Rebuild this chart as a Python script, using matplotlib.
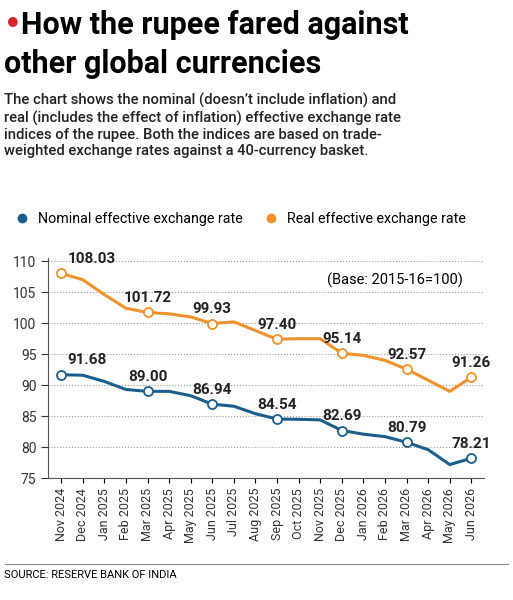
import matplotlib
matplotlib.use("Agg")
import matplotlib.pyplot as plt
from matplotlib.lines import Line2D

months = ["Nov 2024","Dec 2024","Jan 2025","Feb 2025","Mar 2025","Apr 2025","May 2025","Jun 2025",
          "Jul 2025","Aug 2025","Sep 2025","Oct 2025","Nov 2025","Dec 2025","Jan 2026","Feb 2026",
          "Mar 2026","Apr 2026","May 2026","Jun 2026"]
real = [108.03,107.0,104.6,102.4,101.72,101.5,101.0,99.93,100.2,98.8,97.40,97.5,97.5,95.14,94.8,94.0,92.57,90.8,89.0,91.26]
nominal = [91.68,91.6,90.6,89.3,89.00,89.0,88.3,86.94,86.6,85.4,84.54,84.5,84.4,82.69,82.1,81.7,80.79,79.6,77.2,78.21]
marked = [0,4,7,10,13,16,19]

BLUE = "#1b5e8c"; ORANGE = "#f0922b"
fig = plt.figure(figsize=(5.13,6.0), dpi=100)
cond = ["Liberation Sans Narrow","Roboto","DejaVu Sans"]
rob = ["Roboto","DejaVu Sans"]
fig.text(0.008,0.958,"•",color="#d7262e",fontsize=20,va="center",ha="left",fontweight="bold")
fig.text(0.04,0.958,"How the rupee fared against",fontsize=22,fontweight="bold",family=cond,va="center")
fig.text(0.008,0.893,"other global currencies",fontsize=22,fontweight="bold",family=cond,va="center")
fig.text(0.008,0.845,"The chart shows the nominal (doesn’t include inflation) and\nreal (includes the effect of inflation) effective exchange rate\nindices of the rupee. Both the indices are based on trade-\nweighted exchange rates against a 40-currency basket.",
         fontsize=10.6,family=rob,fontweight="medium",va="top",linespacing=1.2,color="#222222")

ax = fig.add_axes([0.094,0.203,0.85,0.367])
x = list(range(len(months)))
for vals,c in ((real,ORANGE),(nominal,BLUE)):
    ax.plot(x,vals,color=c,lw=2.2,zorder=3)
    ax.plot([x[i] for i in marked],[vals[i] for i in marked],'o',ms=6.5,mfc="white",mec=c,mew=1.3,zorder=4)
    for i in marked:
        ax.text(x[i]+(0.3 if i==0 else 0),vals[i]+1.2,f"{vals[i]:.2f}",ha="center" if i else "left",va="bottom",
                fontsize=11,fontweight="bold",family=rob,color="#222222")
ax.set_ylim(75,110.5)
ax.set_xlim(-0.6,19.6)
ax.set_yticks(range(75,111,5))
ax.set_xticks(x)
ax.set_xticklabels(months,rotation=90,fontsize=9,family=rob,color="#333333")
ax.tick_params(axis='y',labelsize=10,colors="#333333",length=5)
for lab in ax.get_yticklabels(): lab.set_family(rob)
ax.grid(axis='y',ls=':',color="#999999",lw=0.8)
for s in ("top","right"): ax.spines[s].set_visible(False)
ax.spines["left"].set_color("#555555"); ax.spines["bottom"].set_color("#555555")
ax.text(0.95,0.9,"(Base: 2015-16=100)",transform=ax.transAxes,ha="right",va="center",fontsize=10.5,family=rob)

handles=[Line2D([],[],marker='o',ls='',color=BLUE,ms=6),Line2D([],[],marker='o',ls='',color=ORANGE,ms=6)]
fig.legend(handles,["Nominal effective exchange rate","Real effective exchange rate"],loc="center left",
           bbox_to_anchor=(-0.01,0.635),ncol=2,frameon=False,handletextpad=0.1,columnspacing=1.0,
           prop={"family":rob,"size":10.3})
fig.add_artist(Line2D([0.01,0.99],[0.06,0.06],color="#888888",lw=0.8))
fig.text(0.008,0.042,"SOURCE: RESERVE BANK OF INDIA",fontsize=8,family=rob,va="center")
fig.savefig("out.png",dpi=100,facecolor="white")
